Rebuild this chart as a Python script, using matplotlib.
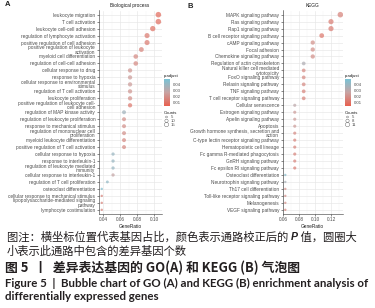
import numpy as np
import matplotlib as mpl
import matplotlib.pyplot as plt
from matplotlib.colors import LinearSegmentedColormap, Normalize
from matplotlib.ticker import MultipleLocator, FormatStrFormatter

plt.rcParams['font.family'] = ['Liberation Sans', 'DejaVu Sans']

# ---- GO (biological process) ----
go_terms = ["leukocyte migration", "T cell activation", "leukocyte cell-cell adhesion",
            "regulation of lymphocyte activation", "positive regulation of cell adhesion",
            "positive regulation of leukocyte\nactivation", "myeloid cell differentiation",
            "regulation of cell-cell adhesion", "cellular response to drug", "response to hypoxia",
            "cellular response to environmental\nstimulus", "regulation of T cell activation",
            "leukocyte proliferation", "positive regulation of leukocyte cell-\ncell adhesion",
            "regulation of MAP kinase activity", "regulation of leukocyte proliferation",
            "response to mechanical stimulus", "regulation of mononuclear cell\nproliferation",
            "myeloid leukocyte differentiation", "positive regulation of T cell activation",
            "cellular response to hypoxia", "response to interleukin-1",
            "regulation of leukocyte mediated\nimmunity", "cellular response to interleukin-1",
            "regulation of T cell proliferation", "osteoclast differentiation",
            "cellular response to mechanical stimulus",
            "lipopolysaccharide-mediated signaling\npathway", "lymphocyte costimulation"]
go_ratio = [0.1051, 0.1051, 0.0985, 0.0918, 0.0918, 0.0851, 0.0785, 0.0785,
            0.0718, 0.0718, 0.0718, 0.0718, 0.0718, 0.0718,
            0.0647, 0.0647, 0.0647, 0.0647, 0.0647, 0.0647,
            0.0518, 0.0518, 0.0518, 0.0518, 0.0451,
            0.0385, 0.0385, 0.0385, 0.0385]
go_count = [15, 15, 14, 13, 13, 12, 11, 11, 10, 10, 10, 10, 10, 10,
            9, 9, 9, 9, 9, 9, 7, 7, 7, 7, 6, 5, 5, 5, 5]
go_padj = [0.008, 0.009, 0.010, 0.013, 0.013, 0.016, 0.018, 0.018,
           0.022, 0.024, 0.024, 0.022, 0.020, 0.012,
           0.038, 0.020, 0.020, 0.020, 0.018, 0.018,
           0.040, 0.040, 0.040, 0.028, 0.042,
           0.046, 0.016, 0.016, 0.016]

# ---- KEGG ----
kegg_terms = ["MAPK signaling pathway", "Ras signaling pathway", "Rap1 signaling pathway",
              "B cell receptor signaling pathway", "cAMP signaling pathway", "Focal adhesion",
              "Chemokine signaling pathway", "Regulation of actin cytoskeleton",
              "Natural killer cell mediated\ncytotoxicity", "FoxO signaling pathway",
              "Relaxin signaling pathway", "TNF signaling pathway",
              "T cell receptor signaling pathway", "Cellular senescence",
              "Estrogen signaling pathway", "Apelin signaling pathway", "Apoptosis",
              "Growth hormone synthesis, secretion and\naction",
              "C-type lectin receptor signaling pathway", "Hematopoietic cell lineage",
              "Fc gamma R-mediated phagocytosis", "GnRH signaling pathway",
              "Fc epsilon RI signaling pathway", "Osteoclast differentiation",
              "Neurotrophin signaling pathway", "Th17 cell differentiation",
              "Toll-like receptor signaling pathway", "Melanogenesis", "VEGF signaling pathway"]
kegg_ratio = [0.1313, 0.1196, 0.1196, 0.1080, 0.0968, 0.0968, 0.0968,
              0.0855, 0.0855, 0.0855, 0.0855, 0.0855, 0.0855,
              0.0743, 0.0743, 0.0743, 0.0743, 0.0743, 0.0743, 0.0743, 0.0743, 0.0743, 0.0743,
              0.0625, 0.0625, 0.0625, 0.0625, 0.0625, 0.0625]
kegg_count = [11, 10, 10, 9, 8, 8, 8, 7, 7, 7, 7, 7, 7,
              6, 6, 6, 6, 6, 6, 6, 6, 6, 6, 5, 5, 5, 5, 5, 5]
kegg_padj = [0.016, 0.014, 0.014, 0.012, 0.020, 0.020, 0.020,
             0.034, 0.018, 0.018, 0.018, 0.016, 0.016,
             0.030, 0.024, 0.024, 0.024, 0.018, 0.016, 0.016, 0.016, 0.016, 0.014,
             0.044, 0.036, 0.020, 0.020, 0.020, 0.016]

cbar_ticks = [0.01, 0.02, 0.03, 0.04]

W, H = 375, 308
fig = plt.figure(figsize=(W / 100, H / 100), dpi=100)


def box(l, t, r, b):
    return [l / W, 1 - b / H, (r - l) / W, (b - t) / H]


cmap = LinearSegmentedColormap.from_list('padj', ['#E8604F', '#C9A3A2', '#78C3D6'])
norm = Normalize(0.0035, 0.0495)
grey = '#4D4D4D'
fs = 3.4


def dsize(c, lo, hi):
    return np.interp(c, [lo, hi], [3, 16])


def panel(rect, terms, ratio, count, padj, title, xlim, lo, hi):
    ax = fig.add_axes(rect)
    y = np.arange(len(terms))
    ax.scatter(ratio, y, s=dsize(np.array(count), lo, hi), c=padj, cmap=cmap, norm=norm,
               edgecolors='none', alpha=0.72, zorder=3)
    ax.set_ylim(len(terms) - 0.4, -0.6)
    ax.set_yticks(y)
    ax.set_yticklabels(terms, fontsize=fs, color=grey, linespacing=0.9)
    ax.set_xlim(*xlim)
    ax.xaxis.set_major_locator(MultipleLocator(0.02))
    ax.xaxis.set_minor_locator(MultipleLocator(0.01))
    ax.xaxis.set_major_formatter(FormatStrFormatter('%.2f'))
    ax.tick_params(axis='both', which='major', labelsize=fs, labelcolor=grey, length=1.5,
                   width=0.4, color='#333333', pad=1)
    ax.tick_params(axis='x', which='minor', length=0)
    ax.grid(which='major', color='#E6E6E6', lw=0.45)
    ax.grid(which='minor', axis='x', color='#F2F2F2', lw=0.3)
    ax.set_axisbelow(True)
    for s in ['top', 'right']:
        ax.spines[s].set_visible(False)
    for s in ['left', 'bottom']:
        ax.spines[s].set_color('#333333')
        ax.spines[s].set_linewidth(0.4)
    ax.set_title(title, fontsize=fs, color='#1A1A1A', pad=2.2)
    ax.set_xlabel('GeneRatio', fontsize=fs, color='#1A1A1A', labelpad=1.2)
    return ax


panel(box(98.7, 10.5, 161.5, 214), go_terms, go_ratio, go_count, go_padj,
      'Biological process', (0.0349, 0.1088), 5, 15)
panel(box(282.5, 10.5, 343, 214), kegg_terms, kegg_ratio, kegg_count, kegg_padj,
      'KEGG', (0.059, 0.1346), 5, 11)

ov = fig.add_axes([0, 0, 1, 1])
ov.set_xlim(0, W)
ov.set_ylim(H, 0)
ov.axis('off')


def legend(x0, breaks, lo, hi):
    cax = fig.add_axes(box(x0, 79, x0 + 6, 106))
    cb = mpl.colorbar.ColorbarBase(cax, cmap=cmap, norm=norm, ticks=cbar_ticks)
    cb.outline.set_visible(False)
    cax.tick_params(labelsize=3.1, labelcolor=grey, length=1.2, width=0.3, color='white', pad=1)
    cax.set_yticklabels(['%.2f' % t for t in cbar_ticks])
    ov.text(x0, 75.5, 'p.adjust', fontsize=3.1, color='#1A1A1A', va='center')
    ov.text(x0, 113, 'Counts', fontsize=3.1, color='#1A1A1A', va='center')
    for i, b in enumerate(breaks):
        yy = 117 + i * 3.8
        ov.scatter([x0 + 2.5], [yy], s=dsize(b, lo, hi) * 0.6, facecolors='none',
                   edgecolors='#555555', linewidths=0.3)
        ov.text(x0 + 6.5, yy, str(b), fontsize=3.1, color=grey, va='center')


legend(164, [5, 10, 15], 5, 15)
legend(345, [5, 8, 11], 5, 11)

ov.text(5, 5, 'A', fontsize=5.5, fontweight='bold', color='#222222', va='center')
ov.text(187, 6, 'B', fontsize=5.5, fontweight='bold', color='#222222', va='center')

cjk = ['Noto Sans CJK SC', 'DejaVu Sans']
lato = ['Lato', 'DejaVu Sans']
ink = '#231F20'
t1 = ov.text(7, 237, '图注：横坐标位置代表基因占比，颜色表示通路校正后的 ', fontsize=8.15,
             family=cjk, color=ink, va='center')
fig.canvas.draw()
r = fig.canvas.get_renderer()
bb = t1.get_window_extent(r)
xp = ov.transData.inverted().transform((bb.x1, bb.y0))[0]
t2 = ov.text(xp, 237, 'P', fontsize=7.6, family=['Liberation Sans'], style='italic',
             fontweight='bold', color=ink, va='center')
bb2 = t2.get_window_extent(r)
xq = ov.transData.inverted().transform((bb2.x1, bb2.y0))[0]
ov.text(xq, 237, ' 值，圆圈大', fontsize=8.15, family=cjk, color=ink, va='center')
ov.text(7, 251, '小表示此通路中包含的差异基因个数', fontsize=8.15, family=cjk,
        color=ink, va='center')
ov.text(5, 268, '图 5  丨  差异表达基因的 GO(A) 和 KEGG (B) 气泡图', fontsize=9.3, family=cjk,
        fontweight='bold', color=ink, va='center')
ov.text(5, 283, 'Figure 5  |  Bubble chart of GO (A) and KEGG (B) enrichment analysis of',
        fontsize=8.3, family=lato, fontweight='bold', color=ink, va='center')
ov.text(5, 297, 'differentially expressed genes', fontsize=8.3, family=lato,
        fontweight='bold', color=ink, va='center')

fig.savefig('out.png', dpi=100)
